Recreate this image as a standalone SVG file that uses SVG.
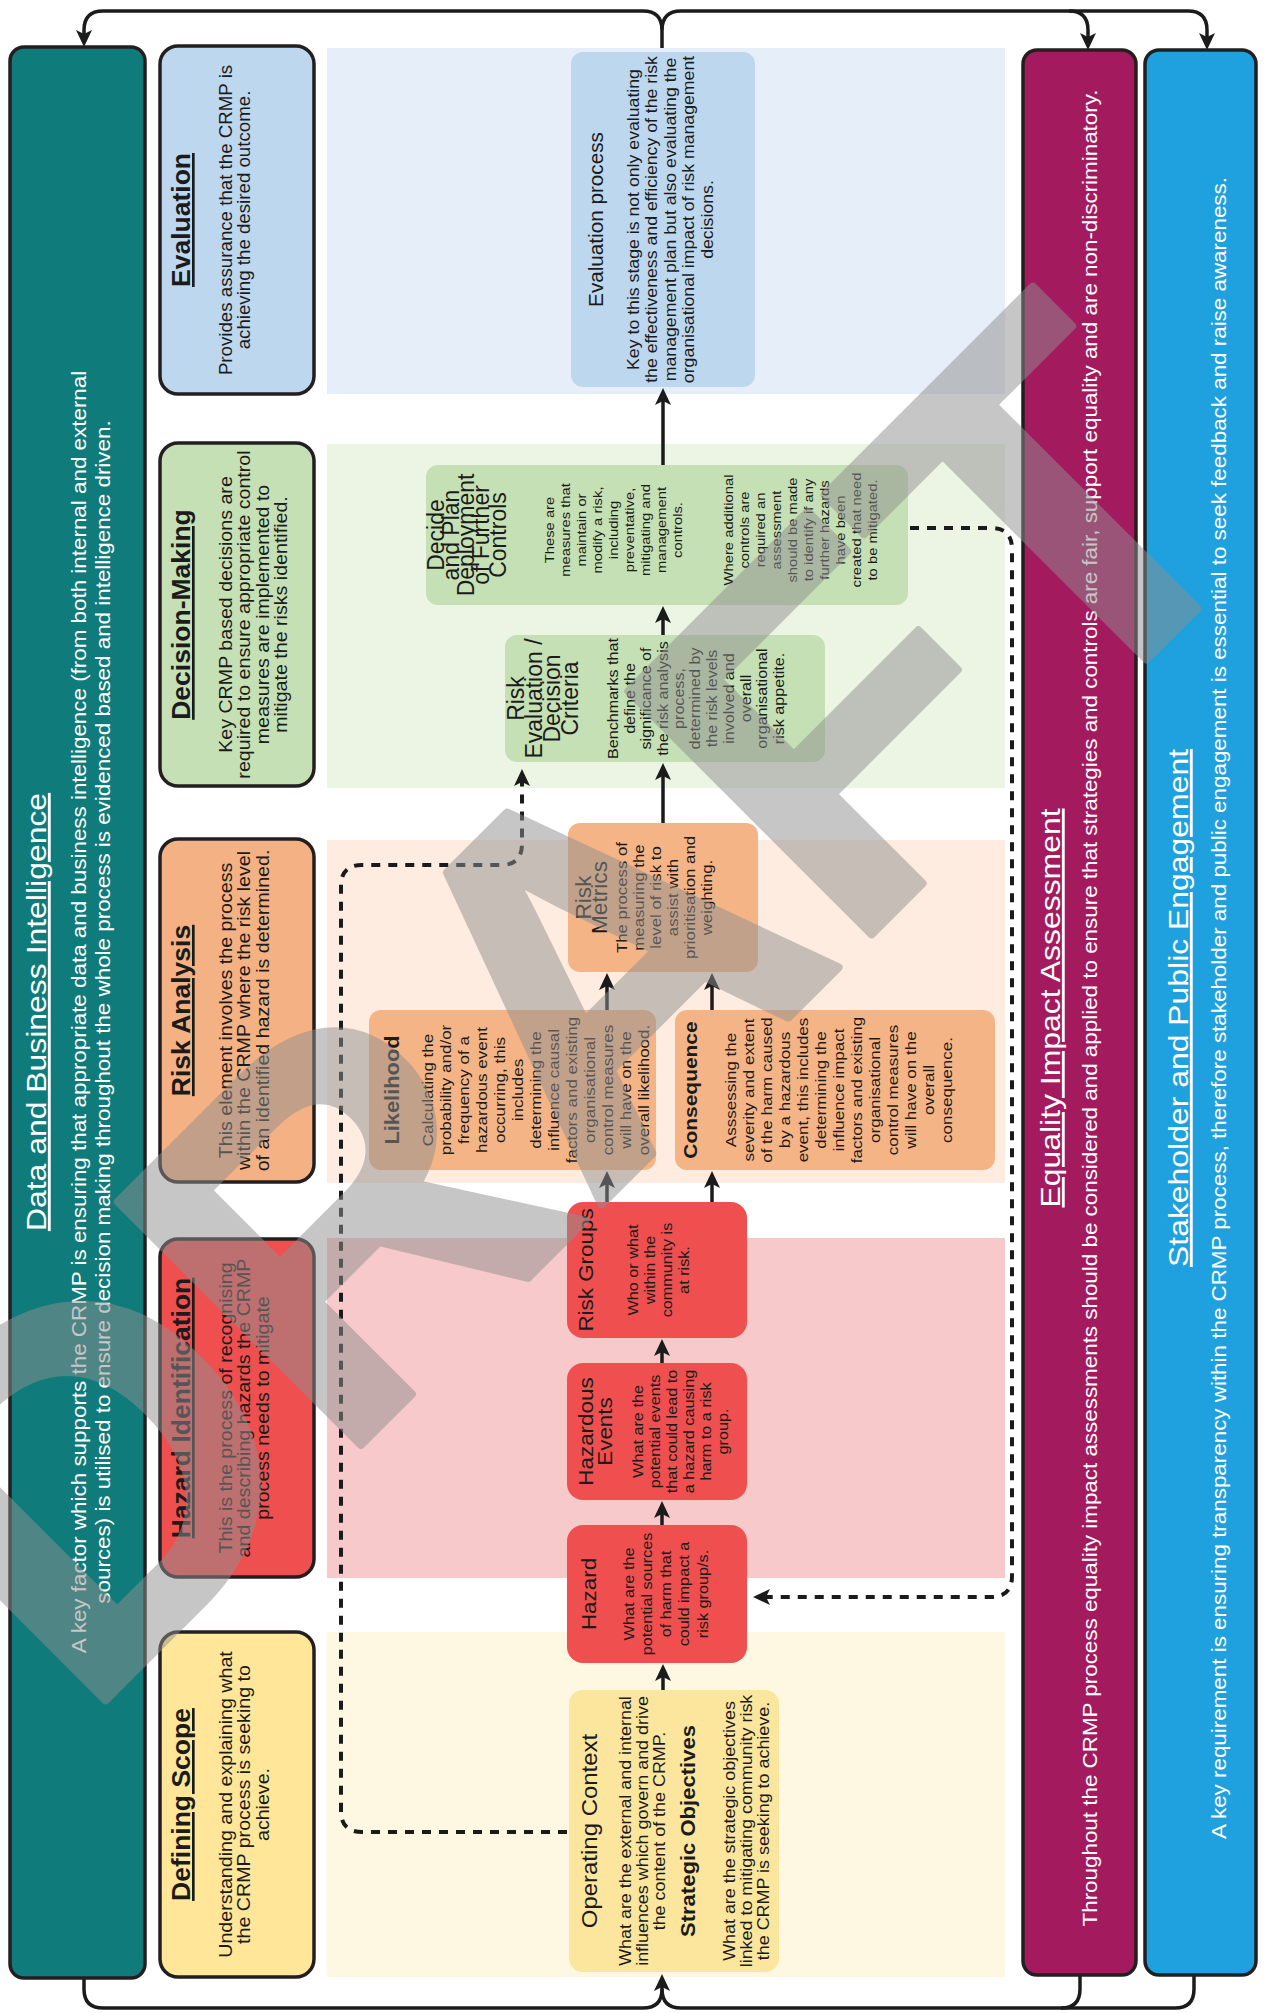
<svg xmlns="http://www.w3.org/2000/svg" width="1267" height="2013" viewBox="0 0 1267 2013">
<defs>
<style>
text{font-family:"Liberation Sans",Arial,sans-serif;text-anchor:middle;fill:#1b1b1b}
.w{fill:#ffffff}
.u{text-decoration:underline}
.b{font-weight:bold}
.ol{stroke:#231f20;stroke-width:3.5}
.conn{fill:none;stroke:#1b1b1b;stroke-width:3.5}
.dash{fill:none;stroke:#1b1b1b;stroke-width:4;stroke-dasharray:9 8}
.s285{font-size:28.5px}
.s20{font-size:20px}
.h{font-size:26.5px;font-weight:bold}
.sb{font-size:18.7px}
.wm{font-family:"Liberation Sans",Arial,sans-serif;font-weight:bold;font-size:500px;fill:#8f8f8f;stroke:#8f8f8f;stroke-width:8;stroke-linejoin:round;text-anchor:start}
</style>
<marker id="ah" markerUnits="userSpaceOnUse" viewBox="-12 -10 22 20" markerWidth="22" markerHeight="20" refX="0" refY="0" orient="auto" overflow="visible">
<path d="M7,0 L-10,-8 L-6,0 L-10,8 Z" fill="#1b1b1b"/>
</marker>
</defs>
<rect width="1267" height="2013" fill="#ffffff"/>

<g id="bands">
<rect x="327" y="48" width="678" height="346" fill="#E6EFF9"/>
<rect x="327" y="444" width="678" height="344" fill="#ECF4E4"/>
<rect x="327" y="840" width="678" height="343" fill="#FDECDF"/>
<rect x="327" y="1238" width="678" height="340" fill="#F8C9CB"/>
<rect x="327" y="1632" width="678" height="345" fill="#FEF7E2"/>
</g>

<g id="connectors">
<path class="conn" d="M662,48 L662,30 Q662,11 643,11 L103,11 Q84,11 84,30 L84,40" marker-end="url(#ah)"/>
<path class="conn" d="M662,30 Q662,11 681,11 L1069,11 Q1088,11 1088,30 L1088,43" marker-end="url(#ah)"/>
<path class="conn" d="M1069,11 L1188,11 Q1207,11 1207,30 L1207,43" marker-end="url(#ah)"/>
<path class="conn" d="M84,1978 L84,1989 Q84,2008 103,2008 L643,2008 Q662,2008 662,1989 L662,1981" marker-end="url(#ah)"/>
<path class="conn" d="M1080,1975 L1080,1989 Q1080,2008 1061,2008 L681,2008 Q662,2008 662,1989"/>
<path class="conn" d="M1194,1975 L1194,1989 Q1194,2008 1175,2008 L1061,2008"/>
<path class="conn" d="M663,1690 L663,1671" marker-end="url(#ah)"/>
<path class="conn" d="M662,1525 L662,1508" marker-end="url(#ah)"/>
<path class="conn" d="M662,1363 L662,1346" marker-end="url(#ah)"/>
<path class="conn" d="M607,1202 L607,1178" marker-end="url(#ah)"/>
<path class="conn" d="M712,1202 L712,1178" marker-end="url(#ah)"/>
<path class="conn" d="M607,1010 L607,980" marker-end="url(#ah)"/>
<path class="conn" d="M712,1010 L712,980" marker-end="url(#ah)"/>
<path class="conn" d="M663,823 L663,770" marker-end="url(#ah)"/>
<path class="conn" d="M663,635 L663,613" marker-end="url(#ah)"/>
<path class="conn" d="M663,465 L663,395" marker-end="url(#ah)"/>
<path class="dash" d="M567,1832 L362,1832 Q341,1832 341,1811 L341,886 Q341,865 362,865 L501,865 Q522,865 522,844 L522,776" marker-end="url(#ah)"/>
<path class="dash" d="M910,528 L991,528 Q1012,528 1012,549 L1012,1576 Q1012,1597 991,1597 L760,1597" marker-end="url(#ah)"/>
</g>

<g id="data-business-intelligence">
<rect class="ol" x="10" y="47" width="135" height="1931" rx="14" fill="#0F7B7A"/>
<g transform="translate(0,1012) rotate(-90) scale(1.12,1)">
<text class="w u s285" y="46">Data and Business Intelligence</text>
<text class="w s20" y="86">A key factor which supports the CRMP is ensuring that appropriate data and business intelligence (from both internal and external</text>
<text class="w s20" y="110">sources) is utilised to ensure decision making throughout the whole process is evidenced based and intelligence driven.</text>
</g>
</g>

<g id="equality-impact-assessment">
<rect class="ol" x="1023" y="50" width="113" height="1925" rx="14" fill="#A41A5F"/>
<g transform="translate(0,1008) rotate(-90) scale(1.12,1)">
<text class="w u s285" y="1060">Equality Impact Assessment</text>
<text class="w s20" y="1097">Throughout the CRMP process equality impact assessments should be considered and applied to ensure that strategies and controls are fair, support equality and are non-discriminatory.</text>
</g>
</g>

<g id="stakeholder-public-engagement">
<rect class="ol" x="1145" y="50" width="111" height="1925" rx="14" fill="#1EA1DE"/>
<g transform="translate(0,1008) rotate(-90) scale(1.12,1)">
<text class="w u s285" y="1188">Stakeholder and Public Engagement</text>
<text class="w s20" y="1226">A key requirement is ensuring transparency within the CRMP process, therefore stakeholder and public engagement is essential to seek feedback and raise awareness.</text>
</g>
</g>

<g id="stage-evaluation">
<rect class="ol" x="160" y="46" width="154" height="348" rx="18" fill="#BDD7EE"/>
<g transform="translate(0,220) rotate(-90)">
<text class="u h" y="190">Evaluation</text>
</g>
<g transform="translate(0,220) rotate(-90) scale(1.05,1)">
<text style="font-size:17.8px" y="232">Provides assurance that the CRMP is</text>
<text style="font-size:17.8px" y="250.5">achieving the desired outcome.</text>
</g>
</g>

<g id="stage-decision-making">
<rect class="ol" x="160" y="443" width="154" height="343" rx="18" fill="#C5E0B4"/>
<g transform="translate(0,614.5) rotate(-90)">
<text class="u h" y="190">Decision-Making</text>
</g>
<g transform="translate(0,614.5) rotate(-90) scale(1.05,1)">
<text class="sb" y="232">Key CRMP based decisions are</text>
<text class="sb" y="250.5">required to ensure appropriate control</text>
<text class="sb" y="269">measures are implemented to</text>
<text class="sb" y="287.5">mitigate the risks identified.</text>
</g>
</g>

<g id="stage-risk-analysis">
<rect class="ol" x="160" y="839" width="154" height="343" rx="18" fill="#F4B183"/>
<g transform="translate(0,1010.5) rotate(-90)">
<text class="u h" y="190">Risk Analysis</text>
</g>
<g transform="translate(0,1010.5) rotate(-90) scale(1.05,1)">
<text class="sb" y="232">This element involves the process</text>
<text class="sb" y="250.5">within the CRMP where the risk level</text>
<text class="sb" y="269">of an identified hazard is determined.</text>
</g>
</g>

<g id="stage-hazard-identification">
<rect class="ol" x="160" y="1239" width="154" height="338" rx="18" fill="#EF4F4F"/>
<g transform="translate(0,1408) rotate(-90)">
<text class="u h" y="190">Hazard Identification</text>
</g>
<g transform="translate(0,1408) rotate(-90) scale(1.05,1)">
<text class="sb" y="232">This is the process of recognising</text>
<text class="sb" y="250.5">and describing hazards the CRMP</text>
<text class="sb" y="269">process needs to mitigate</text>
</g>
</g>

<g id="stage-defining-scope">
<rect class="ol" x="160" y="1632" width="154" height="345" rx="18" fill="#FFE699"/>
<g transform="translate(0,1804.5) rotate(-90)">
<text class="u h" y="190">Defining Scope</text>
</g>
<g transform="translate(0,1804.5) rotate(-90) scale(1.05,1)">
<text class="sb" y="232">Understanding and explaining what</text>
<text class="sb" y="250.5">the CRMP process is seeking to</text>
<text class="sb" y="269">achieve.</text>
</g>
</g>

<g id="evaluation-process">
<rect x="571" y="52" width="184" height="335" rx="12" fill="#BDD7EE"/>
<g transform="translate(0,219.5) rotate(-90)">
<text style="font-size:20.7px" y="603">Evaluation process</text>
</g>
<g transform="translate(0,219.5) rotate(-90) scale(1.12,1)">
<text style="font-size:15.8px" y="639">Key to this stage is not only evaluating</text>
<text style="font-size:15.8px" y="657.5">the effectiveness and efficiency of the risk</text>
<text style="font-size:15.8px" y="676">management plan but also evaluating the</text>
<text style="font-size:15.8px" y="694.5">organisational impact of risk management</text>
<text style="font-size:15.8px" y="713">decisions.</text>
</g>
</g>

<g id="decide-plan-controls">
<rect x="426" y="465" width="482" height="140" rx="12" fill="#C5E0B4"/>
<g transform="translate(0,535) rotate(-90)" style="font-size:23px">
<text y="444">Decide</text>
<text y="459">and Plan</text>
<text y="474">Deployment</text>
<text y="489">of Further</text>
<text y="506">Controls</text>
</g>
<g transform="translate(0,530) rotate(-90) scale(1.12,1)" style="font-size:13.2px">
<text y="554">These are</text>
<text y="570">measures that</text>
<text y="586">maintain or</text>
<text y="602">modify a risk,</text>
<text y="618">including</text>
<text y="634">preventative,</text>
<text y="650">mitigating and</text>
<text y="666">management</text>
<text y="682">controls.</text>
<text y="733">Where additional</text>
<text y="749">controls are</text>
<text y="765">required an</text>
<text y="781">assessment</text>
<text y="797">should be made</text>
<text y="813">to identify if any</text>
<text y="829">further hazards</text>
<text y="845">have been</text>
<text y="861">created that need</text>
<text y="877">to be mitigated.</text>
</g>
</g>

<g id="risk-evaluation-criteria">
<rect x="505" y="635" width="320" height="127" rx="12" fill="#C5E0B4"/>
<g transform="translate(0,698.5) rotate(-90)" style="font-size:23px">
<text y="524">Risk</text>
<text y="542">Evaluation /</text>
<text y="560">Decision</text>
<text y="578">Criteria</text>
</g>
<g transform="translate(0,698.5) rotate(-90) scale(1.12,1)" style="font-size:14.4px">
<text y="618">Benchmarks that</text>
<text y="635">define the</text>
<text y="651">significance of</text>
<text y="668">the risk analysis</text>
<text y="684">process,</text>
<text y="700">determined by</text>
<text y="717">the risk levels</text>
<text y="734">involved and</text>
<text y="751">overall</text>
<text y="767">organisational</text>
<text y="784">risk appetite.</text>
</g>
</g>

<g id="risk-metrics">
<rect x="568" y="823" width="190" height="149" rx="12" fill="#F5B486"/>
<g transform="translate(0,897.5) rotate(-90)" style="font-size:22.7px">
<text y="591">Risk</text>
<text y="607">Metrics</text>
</g>
<g transform="translate(0,897.5) rotate(-90) scale(1.12,1)" style="font-size:15px">
<text y="627">The process of</text>
<text y="644">measuring the</text>
<text y="661">level of risk to</text>
<text y="678">assist with</text>
<text y="695">prioritisation and</text>
<text y="712">weighting.</text>
</g>
</g>

<g id="likelihood">
<rect x="369" y="1010" width="287" height="160" rx="12" fill="#F5B486"/>
<g transform="translate(0,1090) rotate(-90) scale(1.12,1)" style="font-size:15.2px">
<text class="b" style="font-size:19.5px" y="399">Likelihood</text>
<text y="433">Calculating the</text>
<text y="451">probability and/or</text>
<text y="469">frequency of a</text>
<text y="487">hazardous event</text>
<text y="505">occurring, this</text>
<text y="523">includes</text>
<text y="541">determining the</text>
<text y="559">influence causal</text>
<text y="577">factors and existing</text>
<text y="595">organisational</text>
<text y="613">control measures</text>
<text y="631">will have on the</text>
<text y="649">overall likelihood.</text>
</g>
</g>

<g id="consequence">
<rect x="675" y="1010" width="320" height="160" rx="12" fill="#F5B486"/>
<g transform="translate(0,1090) rotate(-90) scale(1.12,1)" style="font-size:15.2px">
<text class="b" style="font-size:18.7px" y="697">Consequence</text>
<text y="736">Asssessing the</text>
<text y="754">severity and extent</text>
<text y="772">of the harm caused</text>
<text y="790">by a hazardous</text>
<text y="808">event, this includes</text>
<text y="826">determining the</text>
<text y="844">influence impact</text>
<text y="862">factors and existing</text>
<text y="880">organisational</text>
<text y="898">control measures</text>
<text y="916">will have on the</text>
<text y="934">overall</text>
<text y="952">consequence.</text>
</g>
</g>

<g id="risk-groups">
<rect x="567" y="1202" width="180" height="136" rx="16" fill="#EF4F4F"/>
<g transform="translate(0,1270) rotate(-90) scale(1.12,1)" style="font-size:14.5px">
<text style="font-size:20px" y="593">Risk Groups</text>
<text y="638">Who or what</text>
<text y="655">within the</text>
<text y="672">community is</text>
<text y="689">at risk.</text>
</g>
</g>

<g id="hazardous-events">
<rect x="567" y="1363" width="180" height="137" rx="16" fill="#EF4F4F"/>
<g transform="translate(0,1431.5) rotate(-90) scale(1.12,1)" style="font-size:14.5px">
<text style="font-size:20px" y="593">Hazardous</text>
<text style="font-size:20px" y="612">Events</text>
<text y="643">What are the</text>
<text y="660">potential events</text>
<text y="677">that could lead to</text>
<text y="694">a hazard causing</text>
<text y="711">harm to a risk</text>
<text y="728">group.</text>
</g>
</g>

<g id="hazard">
<rect x="567" y="1525" width="180" height="138" rx="16" fill="#EF4F4F"/>
<g transform="translate(0,1594) rotate(-90) scale(1.12,1)" style="font-size:14.5px">
<text style="font-size:20px" y="596">Hazard</text>
<text y="634">What are the</text>
<text y="652.5">potential sources</text>
<text y="671">of harm that</text>
<text y="689.5">could impact a</text>
<text y="708">risk group/s.</text>
</g>
</g>

<g id="operating-context">
<rect x="569" y="1690" width="210" height="282" rx="14" fill="#FCE69E"/>
<g transform="translate(0,1831) rotate(-90) scale(1.12,1)" style="font-size:16px">
<text style="font-size:21.4px" y="597">Operating Context</text>
<text y="631">What are the external and internal</text>
<text y="648">influences which govern and drive</text>
<text y="665">the content of the CRMP.</text>
<text class="b" style="font-size:19.7px" y="695">Strategic Objectives</text>
<text y="735">What are the strategic objectives</text>
<text y="752">linked to mitigating community risk</text>
<text y="769">the CRMP is seeking to achieve.</text>
</g>
</g>

<g id="watermark" opacity="0.5">
<text class="wm" transform="translate(82,1724) rotate(-45)">DRAFT</text>
</g>
</svg>
